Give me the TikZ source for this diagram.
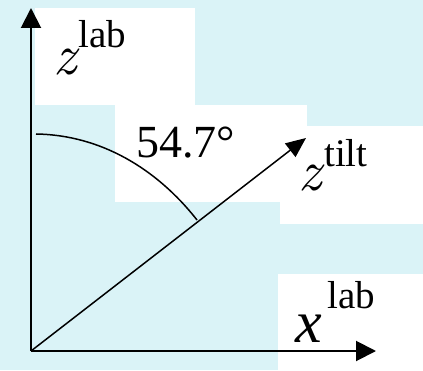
\documentclass[tikz,border=0pt]{standalone}
\usepackage{fontspec}
\setmainfont{Liberation Serif}
\newfontfamily\lmfont{Latin Modern Roman}
\usetikzlibrary{arrows.meta}
\definecolor{bgcyan}{RGB}{218,243,247}
\tikzset{
  whitebox/.style={fill=white,draw=none},
  axisline/.style={line width=2pt,-{Triangle[length=20pt,width=20pt]}},
  tiltline/.style={line width=1.5pt,-{Triangle[length=20pt,width=17pt]}},
  anglearc/.style={line width=1.5pt},
  bigletter/.style={inner sep=0pt,anchor=base west,font=\fontsize{60}{60}\selectfont\itshape},
  zletter/.style={inner sep=0pt,anchor=base west,font=\fontsize{58}{58}\selectfont\lmfont\itshape},
  suplabel/.style={inner sep=0pt,anchor=base west,font=\fontsize{39}{39}\selectfont},
  anglelabel/.style={inner sep=0pt,anchor=base west,font=\fontsize{46}{46}\selectfont}
}
\begin{document}
\begin{tikzpicture}[x=1pt,y=1pt]
\useasboundingbox (0,0) rectangle (423,370);
\fill[bgcyan] (0,0) rectangle (423,370);
% white panels
\fill[whitebox] (35,265) rectangle (195,362);
\fill[whitebox] (115,168) rectangle (307,265);
\fill[whitebox] (280,146) rectangle (423,244);
\fill[whitebox] (278,0) rectangle (423,96);
% coordinates
\coordinate (O) at (31,19);
\coordinate (Ztip) at (31,362);
\coordinate (Xtip) at (376,19);
\coordinate (Ttip) at (306,232);
\coordinate (A1) at (36,236);
\coordinate (A2) at (197,150);
% axes
\draw[axisline] (O) -- (Ztip);
\draw[axisline] (O) -- (Xtip);
\draw[tiltline] (O) -- (Ttip);
% angle arc
\draw[anglearc] (A1) .. controls (101,235) and (157,201) .. (A2);
% labels
\node[zletter] (zlab) at (53,295) {z};
\node[suplabel] (zlabsup) at (78,322) {lab};
\node[anglelabel] (angle) at (136,212) {54.7°};
\node[zletter] (ztilt) at (298,179) {z};
\node[suplabel] (ztiltsup) at (324,203) {tilt};
\node[bigletter] (xlab) at (295,28) {x};
\node[suplabel] (xlabsup) at (327,62) {lab};
\end{tikzpicture}
\end{document}
